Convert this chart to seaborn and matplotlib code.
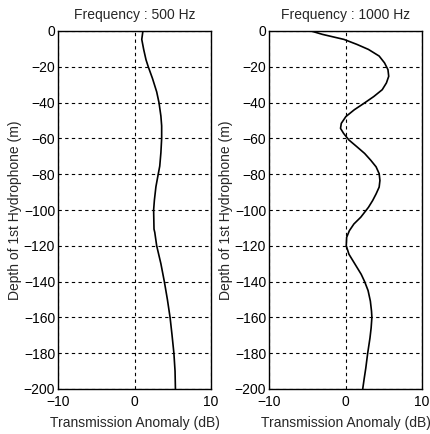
import matplotlib
matplotlib.use("Agg")
import matplotlib.pyplot as plt
import seaborn as sns
import pandas as pd

depth_500 = [0, -4.7, -10.3, -16, -20, -26.5, -34, -40, -47.5, -53, -60, -68, -75.5,
             -80, -87, -94.5, -100, -110.7, -112.5, -120, -130, -140, -150, -160,
             -169.6, -180, -190, -200]
anom_500 = [1.1, 0.95, 1.2, 1.5, 1.8, 2.35, 2.9, 3.2, 3.45, 3.55, 3.55, 3.45, 3.3,
            3.1, 2.8, 2.6, 2.5, 2.55, 2.65, 2.9, 3.45, 3.9, 4.3, 4.65,
            4.9, 5.15, 5.3, 5.35]

depth_1000 = [0, -1.9, -4.7, -7.5, -10.3, -14, -17.8, -21.6, -25.3, -29, -32.8, -36.6,
              -40.3, -44, -47.8, -51.6, -54.4, -57.2, -60.9, -64.7, -68.4, -72.2,
              -75.9, -79.7, -83.5, -87.2, -91, -94.7, -98.5, -104, -107.8, -111.6,
              -115.3, -120, -124.7, -130.3, -135.9, -140, -145, -150.9, -156.5, -160,
              -165.9, -171.5, -180, -188.4, -194, -200]
anom_1000 = [-4.5, -3.0, -0.2, 1.5, 3.0, 4.4, 5.1, 5.55, 5.65, 5.35, 4.8, 3.7,
             2.45, 1.15, 0.05, -0.55, -0.65, -0.25, 0.45, 1.5, 2.5, 3.3,
             4.0, 4.4, 4.5, 4.4, 4.0, 3.55, 3.0, 2.0, 1.1, 0.5,
             0.15, 0.1, 0.45, 1.25, 2.05, 2.5, 2.95, 3.25, 3.4, 3.45,
             3.35, 3.2, 2.9, 2.65, 2.45, 2.25]

titles = ["Frequency : 500 Hz", "Frequency : 1000 Hz"]
xlabel = "Transmission Anomaly (dB)"
ylabel = "Depth of 1st Hydrophone (m)"
xticks = [-10, 0, 10]
yticks = [0, -20, -40, -60, -80, -100, -120, -140, -160, -180, -200]

sns.set_style("white")
plt.rcParams['font.family'] = ['Liberation Sans Narrow', 'Liberation Sans', 'DejaVu Sans']

fig = plt.figure(figsize=(4.30, 4.34), dpi=100)
W, H = 430, 434
boxes = [(58, 31, 153, 358), (269, 31, 153, 358)]
datasets = [(depth_500, anom_500), (depth_1000, anom_1000)]

for (l, t, w, h), (d, a), title in zip(boxes, datasets, titles):
    ax = fig.add_axes([l / W, 1 - (t + h) / H, w / W, h / H])
    df = pd.DataFrame({"depth": d, "anom": a})
    sns.lineplot(data=df, x="anom", y="depth", sort=False, estimator=None,
                 color="black", lw=1.2, ax=ax)
    ax.set_xlim(-10, 10)
    ax.set_ylim(-200, 0)
    ax.set_xticks(xticks)
    ax.set_yticks(yticks)
    ax.grid(True, color="black", linestyle=(0, (3, 3)), linewidth=0.8)
    for s in ax.spines.values():
        s.set_color("black")
        s.set_linewidth(1.0)
    ax.tick_params(direction="in", length=3, labelsize=10, colors="black")
    ax.tick_params(axis="y", pad=2)
    ax.tick_params(axis="x", pad=4)
    ax.set_title(title, fontsize=10, pad=9)
    ax.set_xlabel(xlabel, fontsize=10, labelpad=5)
    ax.set_ylabel(ylabel, fontsize=10, labelpad=1)

fig.savefig("out.png", dpi=100)
